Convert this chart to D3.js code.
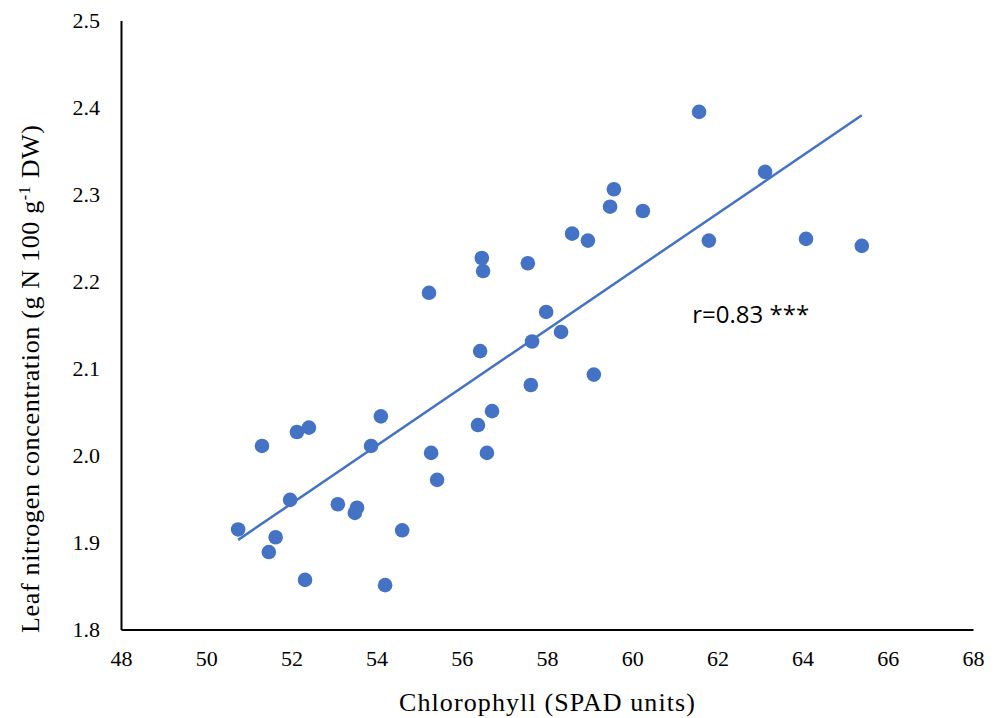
<!DOCTYPE html>
<html>
<head>
<meta charset="utf-8">
<script src="https://cdn.jsdelivr.net/npm/d3@7/dist/d3.min.js"></script>
<style>
  body { margin: 0; background: #fff; }
  .tick text { font-family: "Liberation Serif", "DejaVu Serif", serif; fill: #000; }
</style>
</head>
<body>
<div id="chart"></div>
<script>
const width = 995, height = 718;
const margin = { top: 20.5, right: 22, bottom: 88.5, left: 121 };

// chlorophyll (SPAD) readings
const spad = [50.75, 51.31, 51.47, 51.63, 51.97, 52.13, 52.32, 52.41, 53.09, 53.49,
  53.54, 53.87, 54.10, 54.20, 54.60, 55.23, 55.28, 55.42, 56.38, 56.43,
  56.47, 56.50, 56.59, 56.71, 57.55, 57.65, 57.62, 57.98, 58.33, 58.59,
  58.96, 59.10, 59.48, 59.57, 60.25, 61.57, 61.80, 63.12, 64.08, 65.39];

// leaf N (g N 100 g-1 DW)
const leafN = [1.915, 2.011, 1.889, 1.906, 1.949, 2.027, 1.857, 2.032, 1.944, 1.934,
  1.940, 2.011, 2.045, 1.851, 1.914, 2.187, 2.003, 1.972, 2.035, 2.120,
  2.227, 2.212, 2.003, 2.051, 2.221, 2.131, 2.081, 2.165, 2.142, 2.255,
  2.247, 2.093, 2.286, 2.306, 2.281, 2.395, 2.247, 2.326, 2.249, 2.241];

// linear trend line ends
const trendX = [50.75, 65.39];
const trendY = [1.903, 2.391];

const xTicks = [48, 50, 52, 54, 56, 58, 60, 62, 64, 66, 68];
const yTicks = [1.8, 1.9, 2.0, 2.1, 2.2, 2.3, 2.4, 2.5];

const svg = d3.select("#chart").append("svg")
  .attr("width", width)
  .attr("height", height);

const x = d3.scaleLinear().domain([48, 68]).range([margin.left, width - margin.right]);
const y = d3.scaleLinear().domain([1.8, 2.5]).range([height - margin.bottom, margin.top]);

// axes
const xAxis = svg.append("g")
  .attr("transform", `translate(0,${y(1.8)})`)
  .call(d3.axisBottom(x).tickValues(xTicks).tickSize(0).tickPadding(21).tickFormat(d3.format("d")));
xAxis.select(".domain").attr("stroke", "#000").attr("stroke-width", 2);
xAxis.selectAll("text").style("font-size", "22px");

const yAxis = svg.append("g")
  .attr("transform", `translate(${x(48)},0)`)
  .call(d3.axisLeft(y).tickValues(yTicks).tickSize(0).tickPadding(21).tickFormat(d3.format(".1f")));
yAxis.select(".domain").attr("stroke", "#000").attr("stroke-width", 2);
yAxis.selectAll("text").style("font-size", "22px");

// trend line
svg.append("line")
  .attr("x1", x(trendX[0])).attr("y1", y(trendY[0]))
  .attr("x2", x(trendX[1])).attr("y2", y(trendY[1]))
  .attr("stroke", "#4472C4")
  .attr("stroke-width", 2.5);

// points
svg.selectAll("circle.pt")
  .data(spad.map((v, i) => [v, leafN[i]]))
  .join("circle")
  .attr("class", "pt")
  .attr("cx", d => x(d[0]))
  .attr("cy", d => y(d[1]))
  .attr("r", 7.3)
  .attr("fill", "#4472C4");

// correlation label
svg.append("text")
  .attr("x", x(61.41))
  .attr("y", y(2.152))
  .attr("font-family", "'Open Sans', 'DejaVu Sans', sans-serif")
  .attr("font-size", "24px")
  .attr("fill", "#000")
  .text("r=0.83 ***");

// axis titles
svg.append("text")
  .attr("x", (x(48) + x(68)) / 2)
  .attr("y", 711)
  .attr("text-anchor", "middle")
  .attr("font-family", "'Liberation Serif', serif")
  .attr("font-size", "26px")
  .attr("textLength", 296)
  .text("Chlorophyll (SPAD units)");

const yTitle = svg.append("text")
  .attr("transform", `translate(39,${379}) rotate(-90)`)
  .attr("text-anchor", "middle")
  .attr("font-family", "'Liberation Serif', serif")
  .attr("font-size", "26px")
  .attr("textLength", 508);
yTitle.append("tspan").text("Leaf nitrogen concentration (g N 100 g");
yTitle.append("tspan").attr("dy", -9).attr("font-size", "16px").text("-1");
yTitle.append("tspan").attr("dy", 9).text(" DW)");
</script>
</body>
</html>
